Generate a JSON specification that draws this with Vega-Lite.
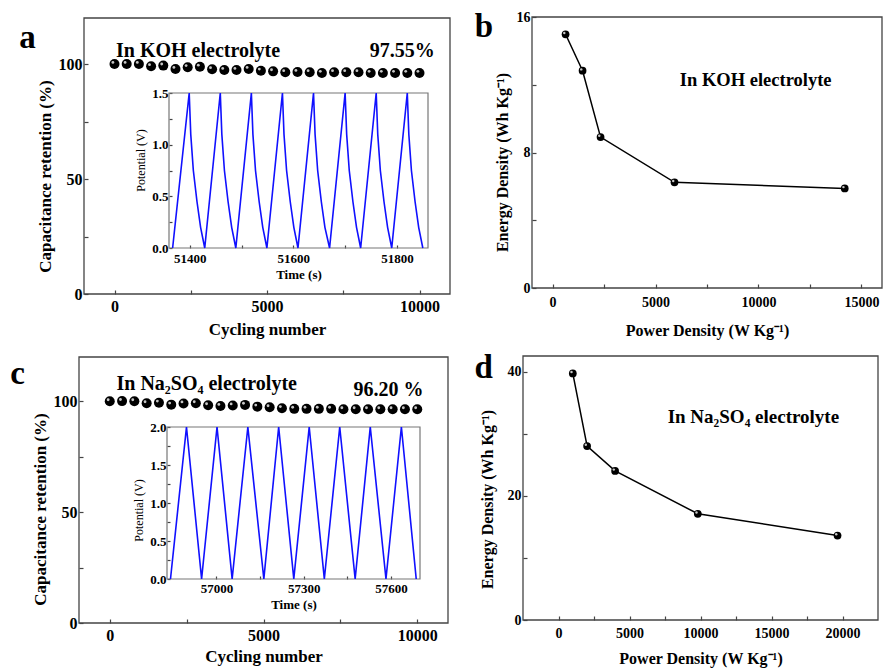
{
  "$schema": "https://vega.github.io/schema/vega-lite/v6.json",
  "width": 883,
  "height": 670,
  "autosize": "none",
  "padding": 0,
  "background": "white",
  "config": {
    "view": {"stroke": null},
    "font": "Liberation Serif",
    "axis": {"grid": false, "domain": false, "ticks": true, "tickSize": -4, "tickColor": "#444", "tickWidth": 1.2, "labelFont": "Liberation Serif", "labelFontWeight": "bold", "labelColor": "#000", "titleFont": "Liberation Serif", "titleFontWeight": "bold", "titleColor": "#000", "labelPadding": 6, "titlePadding": 4},
    "text": {"font": "Liberation Serif", "fontWeight": "bold", "color": "#000"}
  },
  "datasets": {
    "retA": [
      {"cycle": 0, "retention": 100}, {"cycle": 400, "retention": 100}, {"cycle": 800, "retention": 100}, {"cycle": 1200, "retention": 99.0}, {"cycle": 1600, "retention": 99.3}, {"cycle": 2000, "retention": 97.8}, {"cycle": 2400, "retention": 98.6}, {"cycle": 2800, "retention": 98.8}, {"cycle": 3200, "retention": 97.7}, {"cycle": 3600, "retention": 97.4}, {"cycle": 4000, "retention": 97.4}, {"cycle": 4400, "retention": 97.8}, {"cycle": 4800, "retention": 97.1}, {"cycle": 5200, "retention": 96.8}, {"cycle": 5600, "retention": 96.4}, {"cycle": 6000, "retention": 96.5}, {"cycle": 6400, "retention": 96.4}, {"cycle": 6800, "retention": 96.1}, {"cycle": 7200, "retention": 96.4}, {"cycle": 7600, "retention": 96.4}, {"cycle": 8000, "retention": 96.4}, {"cycle": 8400, "retention": 96.1}, {"cycle": 8800, "retention": 96.1}, {"cycle": 9200, "retention": 96.1}, {"cycle": 9600, "retention": 96.1}, {"cycle": 10000, "retention": 96.1}
    ],
    "retC": [
      {"cycle": 0, "retention": 100}, {"cycle": 400, "retention": 100.1}, {"cycle": 800, "retention": 100}, {"cycle": 1200, "retention": 99.1}, {"cycle": 1600, "retention": 99.4}, {"cycle": 2000, "retention": 98.5}, {"cycle": 2400, "retention": 99.0}, {"cycle": 2800, "retention": 99.1}, {"cycle": 3200, "retention": 98.2}, {"cycle": 3600, "retention": 97.9}, {"cycle": 4000, "retention": 98.1}, {"cycle": 4400, "retention": 98.4}, {"cycle": 4800, "retention": 97.6}, {"cycle": 5200, "retention": 97.3}, {"cycle": 5600, "retention": 96.9}, {"cycle": 6000, "retention": 96.6}, {"cycle": 6400, "retention": 96.6}, {"cycle": 6800, "retention": 96.6}, {"cycle": 7200, "retention": 96.6}, {"cycle": 7600, "retention": 96.4}, {"cycle": 8000, "retention": 96.4}, {"cycle": 8400, "retention": 96.4}, {"cycle": 8800, "retention": 96.4}, {"cycle": 9200, "retention": 96.4}, {"cycle": 9600, "retention": 96.4}, {"cycle": 10000, "retention": 96.4}
    ],
    "gcdA": [
      {"t": 51367, "v": 0}, {"t": 51399, "v": 1.5}, {"t": 51402, "v": 1.1}, {"t": 51407, "v": 0.75}, {"t": 51414, "v": 0.45}, {"t": 51421, "v": 0.2}, {"t": 51429, "v": 0},
      {"t": 51459, "v": 1.5}, {"t": 51462, "v": 1.1}, {"t": 51467, "v": 0.75}, {"t": 51474, "v": 0.45}, {"t": 51481, "v": 0.2}, {"t": 51489, "v": 0},
      {"t": 51519, "v": 1.5}, {"t": 51522, "v": 1.1}, {"t": 51527, "v": 0.75}, {"t": 51534, "v": 0.45}, {"t": 51541, "v": 0.2}, {"t": 51549, "v": 0},
      {"t": 51579, "v": 1.5}, {"t": 51582, "v": 1.1}, {"t": 51587, "v": 0.75}, {"t": 51594, "v": 0.45}, {"t": 51601, "v": 0.2}, {"t": 51609, "v": 0},
      {"t": 51639, "v": 1.5}, {"t": 51642, "v": 1.1}, {"t": 51647, "v": 0.75}, {"t": 51654, "v": 0.45}, {"t": 51661, "v": 0.2}, {"t": 51670, "v": 0},
      {"t": 51700, "v": 1.5}, {"t": 51703, "v": 1.1}, {"t": 51708, "v": 0.75}, {"t": 51715, "v": 0.45}, {"t": 51722, "v": 0.2}, {"t": 51730, "v": 0},
      {"t": 51760, "v": 1.5}, {"t": 51763, "v": 1.1}, {"t": 51768, "v": 0.75}, {"t": 51775, "v": 0.45}, {"t": 51782, "v": 0.2}, {"t": 51790, "v": 0},
      {"t": 51820, "v": 1.5}, {"t": 51823, "v": 1.1}, {"t": 51828, "v": 0.75}, {"t": 51835, "v": 0.45}, {"t": 51842, "v": 0.2}, {"t": 51850, "v": 0}
    ],
    "gcdC": [
      {"t": 56842, "v": 0}, {"t": 56897, "v": 2}, {"t": 56949, "v": 0}, {"t": 57002, "v": 2}, {"t": 57054, "v": 0}, {"t": 57108, "v": 2}, {"t": 57163, "v": 0}, {"t": 57214, "v": 2}, {"t": 57266, "v": 0}, {"t": 57319, "v": 2}, {"t": 57371, "v": 0}, {"t": 57424, "v": 2}, {"t": 57477, "v": 0}, {"t": 57529, "v": 2}, {"t": 57583, "v": 0}, {"t": 57636, "v": 2}, {"t": 57687, "v": 0}
    ],
    "edB": [
      {"power": 631, "energy": 14.98}, {"power": 1456, "energy": 12.83}, {"power": 2330, "energy": 8.91}, {"power": 5922, "energy": 6.24}, {"power": 14190, "energy": 5.88}
    ],
    "edD": [
      {"power": 1007, "energy": 39.7}, {"power": 2014, "energy": 28.0}, {"power": 3986, "energy": 24.0}, {"power": 9810, "energy": 17.1}, {"power": 19650, "energy": 13.6}
    ],
    "one": [{}]
  },
  "resolve": {"scale": {"x": "independent", "y": "independent"}, "axis": {"x": "independent", "y": "independent"}},
  "layer": [
    {
      "layer": [
        {
          "data": {"name": "one"},
          "mark": {"type": "rect", "fill": "transparent", "stroke": "#444", "strokeWidth": 1.3},
          "encoding": {
            "x": {"datum": -1000, "type": "quantitative", "scale": {"domain": [-1000, 11000], "range": [84, 450], "nice": false, "zero": false},
                  "axis": {"orient": "bottom", "offset": -376, "values": [0, 2500, 5000, 7500, 10000], "format": "d", "labelExpr": "datum.value % 5000 === 0 ? datum.label : ''", "title": "Cycling number", "labelFontSize": 16, "titleFontSize": 17, "labelPadding": 8, "titlePadding": 7}},
            "x2": {"datum": 11000},
            "y": {"datum": 0, "type": "quantitative", "scale": {"domain": [0, 120], "range": [294, 18], "nice": false, "zero": false},
                  "axis": {"orient": "left", "offset": -84, "values": [0, 25, 50, 75, 100], "labelExpr": "datum.value % 50 === 0 ? datum.label : ''", "title": "Capacitance retention (%)", "labelFontSize": 16, "titleFontSize": 17, "titleY": 176}},
            "y2": {"datum": 120}
          }
        },
        {
          "data": {"name": "retA"},
          "mark": {"type": "point", "filled": true, "color": "#000", "size": 100, "opacity": 1},
          "encoding": {"x": {"field": "cycle", "type": "quantitative"}, "y": {"field": "retention", "type": "quantitative"}}
        },
        {
          "data": {"name": "retA"},
          "mark": {"type": "point", "filled": true, "color": "#ddd", "size": 8, "opacity": 0.9, "xOffset": -1.6, "yOffset": -1.6},
          "encoding": {"x": {"field": "cycle", "type": "quantitative"}, "y": {"field": "retention", "type": "quantitative"}}
        },
        {
          "data": {"name": "one"},
          "mark": {"type": "text", "text": "a", "fontSize": 33, "align": "center", "baseline": "alphabetic"},
          "encoding": {"x": {"datum": -2850, "type": "quantitative"}, "y": {"datum": 107, "type": "quantitative"}}
        },
        {
          "data": {"name": "one"},
          "mark": {"type": "text", "text": "In KOH electrolyte", "fontSize": 20, "align": "center", "baseline": "alphabetic"},
          "encoding": {"x": {"datum": 2738, "type": "quantitative"}, "y": {"datum": 103, "type": "quantitative"}}
        },
        {
          "data": {"name": "one"},
          "mark": {"type": "text", "text": "97.55%", "fontSize": 20, "align": "right", "baseline": "alphabetic"},
          "encoding": {"x": {"datum": 10500, "type": "quantitative"}, "y": {"datum": 103, "type": "quantitative"}}
        }
      ]
    },
    {
      "layer": [
        {
          "data": {"name": "one"},
          "mark": {"type": "rect", "fill": "transparent", "stroke": "#777", "strokeWidth": 1.2},
          "encoding": {
            "x": {"datum": 51360, "type": "quantitative", "scale": {"domain": [51360, 51860], "range": [169, 428], "nice": false, "zero": false},
                  "axis": {"orient": "bottom", "offset": -422, "values": [51400, 51500, 51600, 51700, 51800], "format": "d", "labelExpr": "datum.value % 200 === 0 ? datum.label : ''", "title": "Time (s)", "labelFontSize": 13, "titleFontSize": 13, "tickSize": -3, "labelPadding": 7, "titlePadding": 3}},
            "x2": {"datum": 51860},
            "y": {"datum": 0, "type": "quantitative", "scale": {"domain": [0, 1.5], "range": [248, 93], "nice": false, "zero": false},
                  "axis": {"orient": "left", "offset": -169, "values": [0, 0.25, 0.5, 0.75, 1, 1.25, 1.5], "labelExpr": "(datum.value * 2) % 1 === 0 ? format(datum.value, '.1f') : ''", "title": "Potential (V)", "labelFontSize": 13, "titleFontSize": 12, "titleFontWeight": "normal", "tickSize": -3, "labelPadding": 4, "titleY": 160}},
            "y2": {"datum": 1.5}
          }
        },
        {
          "data": {"name": "gcdA"},
          "mark": {"type": "line", "color": "#1010ff", "strokeWidth": 1.6},
          "encoding": {"x": {"field": "t", "type": "quantitative"}, "y": {"field": "v", "type": "quantitative"}}
        }
      ]
    },
    {
      "layer": [
        {
          "data": {"name": "one"},
          "mark": {"type": "rect", "fill": "transparent", "stroke": "#444", "strokeWidth": 1.3},
          "encoding": {
            "x": {"datum": -1000, "type": "quantitative", "scale": {"domain": [-1000, 16000], "range": [532, 882], "nice": false, "zero": false},
                  "axis": {"orient": "bottom", "offset": -382, "values": [0, 2500, 5000, 7500, 10000, 12500, 15000], "format": "d", "labelExpr": "datum.value % 5000 === 0 ? datum.label : ''", "title": "Power Density (W Kg⁻¹)", "labelFontSize": 14, "titleFontSize": 16, "labelPadding": 11, "titlePadding": 13}},
            "x2": {"datum": 16000},
            "y": {"datum": 0, "type": "quantitative", "scale": {"domain": [0, 16], "range": [288, 17], "nice": false, "zero": false},
                  "axis": {"orient": "left", "offset": -532, "values": [0, 4, 8, 12, 16], "labelExpr": "datum.value % 8 === 0 ? datum.label : ''", "title": "Energy Density (Wh Kg⁻¹)", "labelFontSize": 14, "titleFontSize": 16, "titleY": 162, "titlePadding": 6}},
            "y2": {"datum": 16}
          }
        },
        {
          "data": {"name": "edB"},
          "mark": {"type": "line", "color": "#000", "strokeWidth": 1.5},
          "encoding": {"x": {"field": "power", "type": "quantitative"}, "y": {"field": "energy", "type": "quantitative"}}
        },
        {
          "data": {"name": "edB"},
          "mark": {"type": "point", "filled": true, "color": "#000", "size": 60, "opacity": 1},
          "encoding": {"x": {"field": "power", "type": "quantitative"}, "y": {"field": "energy", "type": "quantitative"}}
        },
        {
          "data": {"name": "edB"},
          "mark": {"type": "point", "filled": true, "color": "#ddd", "size": 6, "opacity": 0.9, "xOffset": -1.3, "yOffset": -1.3},
          "encoding": {"x": {"field": "power", "type": "quantitative"}, "y": {"field": "energy", "type": "quantitative"}}
        },
        {
          "data": {"name": "one"},
          "mark": {"type": "text", "text": "b", "fontSize": 33, "align": "center", "baseline": "alphabetic"},
          "encoding": {"x": {"datum": -3330, "type": "quantitative"}, "y": {"datum": 14.8, "type": "quantitative"}}
        },
        {
          "data": {"name": "one"},
          "mark": {"type": "text", "text": "In KOH electrolyte", "fontSize": 18.5, "align": "center", "baseline": "alphabetic"},
          "encoding": {"x": {"datum": 9865, "type": "quantitative"}, "y": {"datum": 11.92, "type": "quantitative"}}
        }
      ]
    },
    {
      "layer": [
        {
          "data": {"name": "one"},
          "mark": {"type": "rect", "fill": "transparent", "stroke": "#444", "strokeWidth": 1.3},
          "encoding": {
            "x": {"datum": -1000, "type": "quantitative", "scale": {"domain": [-1000, 11000], "range": [79, 448], "nice": false, "zero": false},
                  "axis": {"orient": "bottom", "offset": -47, "values": [0, 2500, 5000, 7500, 10000], "format": "d", "labelExpr": "datum.value % 5000 === 0 ? datum.label : ''", "title": "Cycling number", "labelFontSize": 16, "titleFontSize": 17, "labelPadding": 8, "titlePadding": 5}},
            "x2": {"datum": 11000},
            "y": {"datum": 0, "type": "quantitative", "scale": {"domain": [0, 120], "range": [623, 357], "nice": false, "zero": false},
                  "axis": {"orient": "left", "offset": -79, "values": [0, 25, 50, 75, 100], "labelExpr": "datum.value % 50 === 0 ? datum.label : ''", "title": "Capacitance retention (%)", "labelFontSize": 16, "titleFontSize": 17, "titleY": 509}},
            "y2": {"datum": 120}
          }
        },
        {
          "data": {"name": "retC"},
          "mark": {"type": "point", "filled": true, "color": "#000", "size": 100, "opacity": 1},
          "encoding": {"x": {"field": "cycle", "type": "quantitative"}, "y": {"field": "retention", "type": "quantitative"}}
        },
        {
          "data": {"name": "retC"},
          "mark": {"type": "point", "filled": true, "color": "#ddd", "size": 8, "opacity": 0.9, "xOffset": -1.6, "yOffset": -1.6},
          "encoding": {"x": {"field": "cycle", "type": "quantitative"}, "y": {"field": "retention", "type": "quantitative"}}
        },
        {
          "data": {"name": "one"},
          "mark": {"type": "text", "text": "c", "fontSize": 33, "align": "center", "baseline": "alphabetic"},
          "encoding": {"x": {"datum": -3000, "type": "quantitative"}, "y": {"datum": 108, "type": "quantitative"}}
        },
        {
          "data": {"name": "one"},
          "mark": {"type": "text", "text": "In Na₂SO₄ electrolyte", "fontSize": 20, "align": "center", "baseline": "alphabetic"},
          "encoding": {"x": {"datum": 3153, "type": "quantitative"}, "y": {"datum": 105, "type": "quantitative"}}
        },
        {
          "data": {"name": "one"},
          "mark": {"type": "text", "text": "96.20 %", "fontSize": 20, "align": "right", "baseline": "alphabetic"},
          "encoding": {"x": {"datum": 10200, "type": "quantitative"}, "y": {"datum": 102.6, "type": "quantitative"}}
        }
      ]
    },
    {
      "layer": [
        {
          "data": {"name": "one"},
          "mark": {"type": "rect", "fill": "transparent", "stroke": "#777", "strokeWidth": 1.2},
          "encoding": {
            "x": {"datum": 56830, "type": "quantitative", "scale": {"domain": [56830, 57700], "range": [167, 420], "nice": false, "zero": false},
                  "axis": {"orient": "bottom", "offset": -91, "values": [57000, 57150, 57300, 57450, 57600], "format": "d", "labelExpr": "datum.value % 300 === 0 ? datum.label : ''", "title": "Time (s)", "labelFontSize": 13, "titleFontSize": 13, "tickSize": -3, "labelPadding": 6, "titlePadding": 3}},
            "x2": {"datum": 57700},
            "y": {"datum": 0, "type": "quantitative", "scale": {"domain": [0, 2], "range": [579, 427], "nice": false, "zero": false},
                  "axis": {"orient": "left", "offset": -167, "values": [0, 0.25, 0.5, 0.75, 1, 1.25, 1.5, 1.75, 2], "labelExpr": "(datum.value * 2) % 1 === 0 ? format(datum.value, '.1f') : ''", "title": "Potential (V)", "labelFontSize": 13, "titleFontSize": 12, "titleFontWeight": "normal", "tickSize": -3, "labelPadding": 4, "titleY": 510}},
            "y2": {"datum": 2}
          }
        },
        {
          "data": {"name": "gcdC"},
          "mark": {"type": "line", "color": "#1010ff", "strokeWidth": 1.6},
          "encoding": {"x": {"field": "t", "type": "quantitative"}, "y": {"field": "v", "type": "quantitative"}}
        }
      ]
    },
    {
      "layer": [
        {
          "data": {"name": "one"},
          "mark": {"type": "rect", "fill": "transparent", "stroke": "#444", "strokeWidth": 1.3},
          "encoding": {
            "x": {"datum": -2500, "type": "quantitative", "scale": {"domain": [-2500, 22500], "range": [523, 878], "nice": false, "zero": false},
                  "axis": {"orient": "bottom", "offset": -50, "values": [0, 2500, 5000, 7500, 10000, 12500, 15000, 17500, 20000], "format": "d", "labelExpr": "datum.value % 5000 === 0 ? datum.label : ''", "title": "Power Density (W Kg⁻¹)", "labelFontSize": 14, "titleFontSize": 16, "labelPadding": 10, "titlePadding": 10}},
            "x2": {"datum": 22500},
            "y": {"datum": 0, "type": "quantitative", "scale": {"domain": [0, 42.5], "range": [620, 356], "nice": false, "zero": false},
                  "axis": {"orient": "left", "offset": -523, "values": [0, 10, 20, 30, 40], "labelExpr": "datum.value % 20 === 0 ? datum.label : ''", "title": "Energy Density (Wh Kg⁻¹)", "labelFontSize": 14, "titleFontSize": 16, "titleY": 499, "titlePadding": 12}},
            "y2": {"datum": 42.5}
          }
        },
        {
          "data": {"name": "edD"},
          "mark": {"type": "line", "color": "#000", "strokeWidth": 1.5},
          "encoding": {"x": {"field": "power", "type": "quantitative"}, "y": {"field": "energy", "type": "quantitative"}}
        },
        {
          "data": {"name": "edD"},
          "mark": {"type": "point", "filled": true, "color": "#000", "size": 60, "opacity": 1},
          "encoding": {"x": {"field": "power", "type": "quantitative"}, "y": {"field": "energy", "type": "quantitative"}}
        },
        {
          "data": {"name": "edD"},
          "mark": {"type": "point", "filled": true, "color": "#ddd", "size": 6, "opacity": 0.9, "xOffset": -1.3, "yOffset": -1.3},
          "encoding": {"x": {"field": "power", "type": "quantitative"}, "y": {"field": "energy", "type": "quantitative"}}
        },
        {
          "data": {"name": "one"},
          "mark": {"type": "text", "text": "d", "fontSize": 33, "align": "center", "baseline": "alphabetic"},
          "encoding": {"x": {"datum": -5270, "type": "quantitative"}, "y": {"datum": 39, "type": "quantitative"}}
        },
        {
          "data": {"name": "one"},
          "mark": {"type": "text", "text": "In Na₂SO₄ electrolyte", "fontSize": 19, "align": "center", "baseline": "alphabetic"},
          "encoding": {"x": {"datum": 13725, "type": "quantitative"}, "y": {"datum": 31.7, "type": "quantitative"}}
        }
      ]
    }
  ]
}
